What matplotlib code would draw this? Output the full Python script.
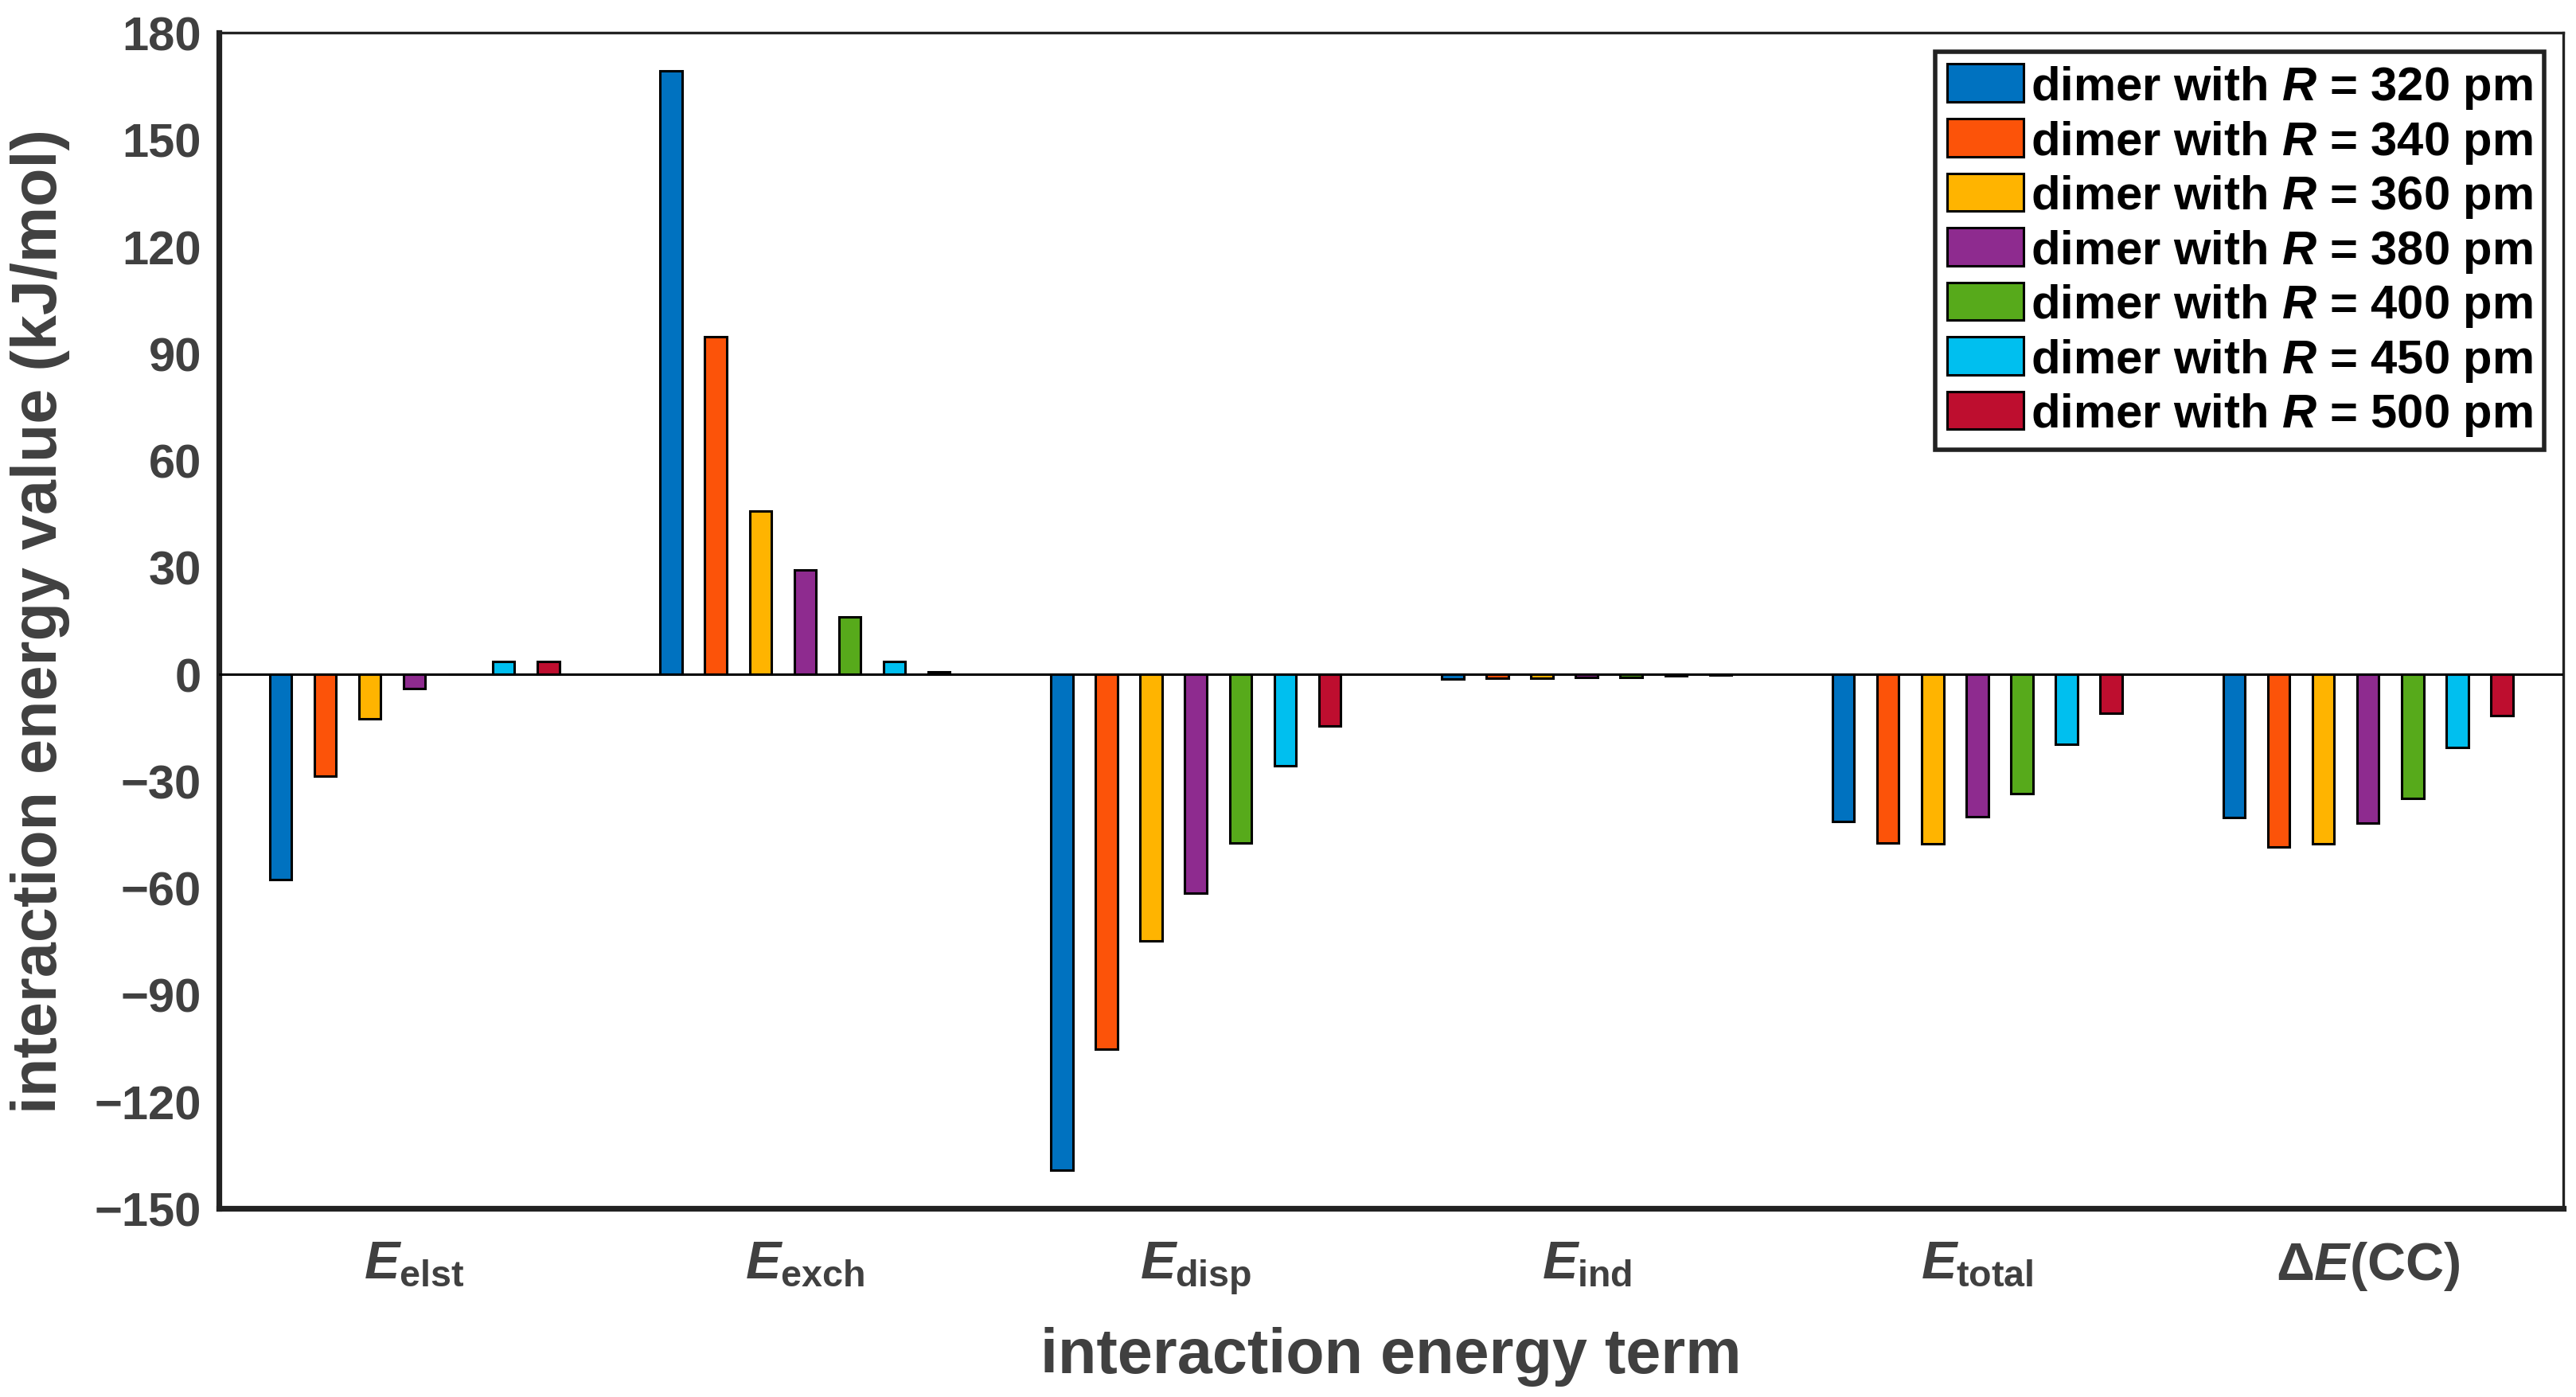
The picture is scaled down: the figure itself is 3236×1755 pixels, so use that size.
import numpy as np
import matplotlib
matplotlib.use("Agg")
import matplotlib.pyplot as plt

plt.rcParams['font.family'] = ['Liberation Sans', 'DejaVu Sans']
plt.rcParams['font.weight'] = 'bold'
plt.rcParams['mathtext.fontset'] = 'custom'
plt.rcParams['mathtext.rm'] = 'Liberation Sans:bold'
plt.rcParams['mathtext.it'] = 'Liberation Sans:italic:bold'
plt.rcParams['mathtext.bf'] = 'Liberation Sans:bold'

terms = [r'$E_{\mathrm{elst}}$', r'$E_{\mathrm{exch}}$', r'$E_{\mathrm{disp}}$',
         r'$E_{\mathrm{ind}}$', r'$E_{\mathrm{total}}$', r'$\mathit{\Delta E}$(CC)']
distances = [320, 340, 360, 380, 400, 450, 500]

# one list per dimer distance, values in kJ/mol for each term
r320 = [-57.8, 169.2, -139.3, -1.5, -41.5, -40.3]
r340 = [-28.6, 94.7, -105.3, -1.2, -47.4, -48.5]
r360 = [-12.5, 45.8, -75.0, -1.2, -47.6, -47.6]
r380 = [-4.2, 29.1, -61.5, -1.0, -40.0, -41.8]
r400 = [0.0, 16.1, -47.5, -0.9, -33.6, -34.9]
r450 = [3.4, 3.4, -25.7, -0.5, -19.8, -20.6]
r500 = [3.4, 0.7, -14.7, -0.3, -11.1, -11.6]
series = [r320, r340, r360, r380, r400, r450, r500]

colors = ['#0072C0', '#FC5309', '#FFB400', '#8E2B8F', '#57AA1B', '#00BFEF', '#BE0E2F']

fig = plt.figure(figsize=(3237 / 200, 1756 / 200), dpi=200)
ax = fig.add_axes([0.085, 0.135, 0.9098, 0.841])

x = np.arange(1, len(terms) + 1)
step = 0.8 / len(series)
for i, vals in enumerate(series):
    ax.bar(x + (i - 3) * step, vals, width=0.056, color=colors[i],
           edgecolor='black', linewidth=1.1,
           label=f'dimer with $R$ = {distances[i]} pm', zorder=2)

ax.axhline(0, color='black', linewidth=1.1, zorder=3)

ax.set_xlim(0.5, 6.5)
ax.set_ylim(-150, 180)
ax.set_yticks(np.arange(-150, 181, 30))
ax.set_xticks(x)
ax.set_xticklabels(terms)
ax.tick_params(axis='both', length=0, labelcolor='#404040')
ax.tick_params(axis='y', pad=8, labelsize=21.5)
ax.tick_params(axis='x', pad=14, labelsize=24)

ax.set_xlabel('interaction energy term', fontsize=28.5, fontweight='bold',
              color='#404040', labelpad=14)
ax.set_ylabel('interaction energy value (kJ/mol)', fontsize=28.5, fontweight='bold',
              color='#404040', labelpad=11)

for side in ['left', 'bottom']:
    ax.spines[side].set_linewidth(2.6)
    ax.spines[side].set_color('#222222')
for side in ['top', 'right']:
    ax.spines[side].set_linewidth(1.2)
    ax.spines[side].set_color('#222222')

leg = ax.legend(loc='upper right', fontsize=21.5, frameon=True, fancybox=False,
                edgecolor='#222222', handlelength=1.6, handleheight=0.85,
                handletextpad=0.15, labelspacing=0.16, borderpad=0.25,
                borderaxespad=0.4)
leg.get_frame().set_linewidth(2.0)
leg.get_frame().set_alpha(1)

fig.savefig('out.png', dpi=200)
